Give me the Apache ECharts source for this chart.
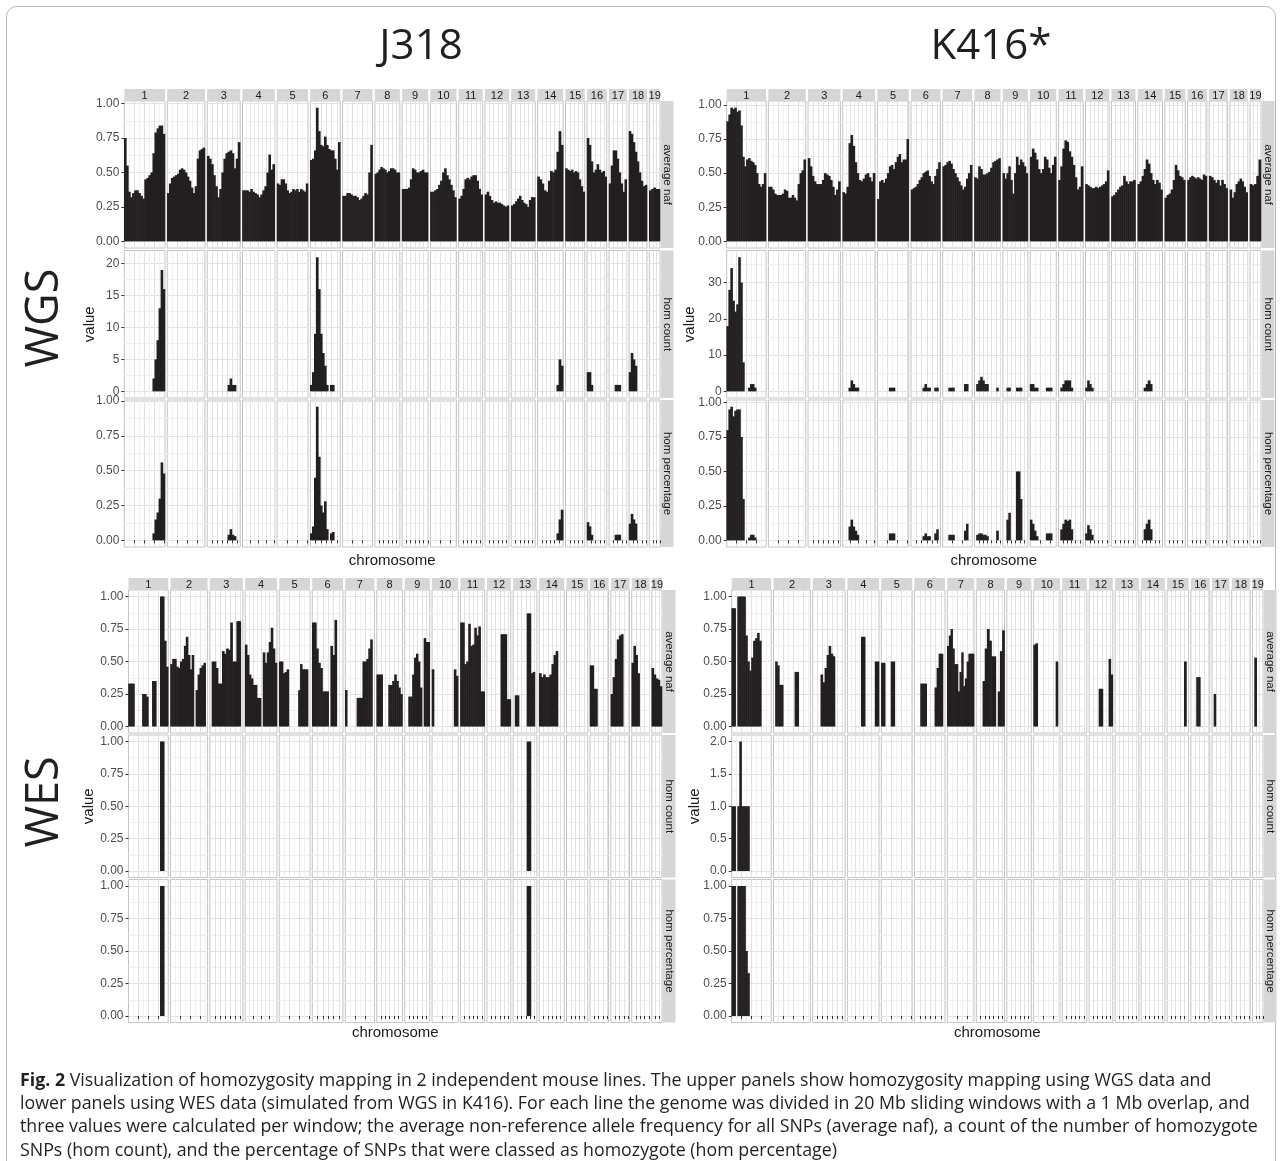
<!DOCTYPE html>
<html><head><meta charset="utf-8">
<script src="https://cdn.jsdelivr.net/npm/echarts@6/dist/echarts.min.js"></script>
<style>html,body{margin:0;padding:0;background:#fff}#c{width:1282px;height:1161px}</style>
</head><body><div id="c"></div>
<script>
// ================= DATA =================
const chromosomes = ['1','2','3','4','5','6','7','8','9','10','11','12','13','14','15','16','17','18','19'];
// number of 20 Mb sliding-window bins drawn per chromosome
const binsPerChromosome = [20,19,16,16,16,15,15,13,13,13,12,12,12,12,10,10,9,9,5];
const lineNames = ['J318', 'K416*'];
const assayNames = ['WGS', 'WES'];
const measureNames = ['average naf', 'hom count', 'hom percentage'];
const xAxisTitle = 'chromosome';
const yAxisTitle = 'value';
// y tick step and decimals per row (average naf, hom count, hom percentage)
const yTickStep = { j318Wgs:[0.25,5,0.25], k416Wgs:[0.25,10,0.25], j318Wes:[0.25,0.25,0.25], k416Wes:[0.25,0.5,0.25] };
const yTickDecimals = { j318Wgs:[2,0,2], k416Wgs:[2,0,2], j318Wes:[2,2,2], k416Wes:[2,1,2] };

// --- J318 WGS ---
const j318WgsNaf = [
  [0.75,0.55,0.36,0.32,0.35,0.37,0.37,0.35,0.33,0.31,0.45,0.46,0.48,0.5,0.64,0.79,0.82,0.84,0.84,0.78],
  [0.35,0.42,0.46,0.47,0.48,0.49,0.52,0.53,0.52,0.5,0.47,0.44,0.39,0.35,0.4,0.6,0.66,0.67,0.68],
  [0.62,0.6,0.56,0.48,0.4,0.32,0.38,0.5,0.6,0.64,0.65,0.66,0.64,0.53,0.6,0.72],
  [0.37,0.37,0.37,0.36,0.38,0.36,0.35,0.34,0.32,0.34,0.37,0.4,0.5,0.63,0.52,0.56],
  [0.42,0.41,0.45,0.45,0.42,0.37,0.35,0.36,0.38,0.37,0.38,0.36,0.38,0.37,0.36,0.42],
  [0.59,0.6,0.66,0.97,0.8,0.7,0.69,0.76,0.7,0.67,0.66,0.66,0.6,0.52,0.72],
  [0.33,0.33,0.35,0.35,0.34,0.33,0.33,0.32,0.3,0.31,0.33,0.35,0.34,0.5,0.7],
  [0.49,0.5,0.52,0.54,0.53,0.52,0.5,0.51,0.53,0.53,0.52,0.5,0.5],
  [0.38,0.38,0.38,0.39,0.45,0.53,0.52,0.5,0.5,0.51,0.52,0.5,0.5],
  [0.36,0.36,0.37,0.38,0.41,0.44,0.5,0.53,0.48,0.45,0.41,0.37,0.32],
  [0.31,0.33,0.38,0.45,0.46,0.45,0.47,0.48,0.48,0.44,0.38,0.34],
  [0.34,0.36,0.33,0.3,0.28,0.29,0.28,0.28,0.27,0.26,0.25,0.26],
  [0.26,0.27,0.29,0.31,0.33,0.3,0.28,0.27,0.25,0.3,0.32,0.32],
  [0.47,0.45,0.42,0.37,0.36,0.44,0.51,0.5,0.52,0.65,0.8,0.7],
  [0.53,0.52,0.51,0.52,0.5,0.51,0.5,0.45,0.4,0.36],
  [0.75,0.7,0.58,0.5,0.52,0.56,0.52,0.5,0.51,0.47],
  [0.42,0.55,0.66,0.66,0.6,0.5,0.42,0.36,0.45],
  [0.8,0.78,0.72,0.65,0.58,0.5,0.44,0.4,0.41],
  [0.37,0.38,0.39,0.38,0.38]
];
// runs: [chromosome, first bin, values...]
const j318WgsHomCount = [
  [1,14,[2,5,8,13,19,16]], [3,10,[1,2,1,1]], [6,0,[1,3,9,21,16,9,6,4,1,0,1,1]],
  [14,9,[1,5,4]], [16,0,[3,3,1]], [17,3,[1,1,1]], [18,0,[3,6,5,4]]
];
const j318WgsHomPct = [
  [1,14,[0.05,0.15,0.2,0.3,0.56,0.48]], [3,10,[0.04,0.08,0.04,0.03]],
  [6,0,[0.05,0.1,0.45,0.96,0.6,0.25,0.2,0.28,0.08,0,0.05,0.06]],
  [14,9,[0.05,0.15,0.22]], [16,0,[0.13,0.1,0.04]], [17,3,[0.04,0.04,0.04]], [18,0,[0.12,0.19,0.15,0.12]]
];

// --- K416 WGS ---
const k416WgsNaf = [
  [0.88,0.93,0.98,0.97,0.98,0.95,0.96,0.85,0.62,0.55,0.6,0.61,0.59,0.58,0.56,0.5,0.42,0.4,0.42,0.5],
  [0.4,0.4,0.38,0.35,0.34,0.34,0.34,0.35,0.38,0.37,0.32,0.32,0.34,0.32,0.3,0.42,0.5,0.52,0.6],
  [0.61,0.55,0.48,0.44,0.42,0.42,0.42,0.45,0.5,0.49,0.48,0.45,0.4,0.34,0.38,0.44],
  [0.36,0.35,0.4,0.72,0.78,0.7,0.58,0.5,0.45,0.44,0.46,0.49,0.5,0.47,0.44,0.5],
  [0.31,0.44,0.45,0.43,0.46,0.5,0.55,0.56,0.53,0.58,0.62,0.64,0.58,0.6,0.6,0.75],
  [0.38,0.39,0.4,0.42,0.45,0.47,0.5,0.51,0.52,0.48,0.44,0.42,0.48,0.53,0.58],
  [0.55,0.56,0.58,0.59,0.57,0.53,0.5,0.47,0.44,0.41,0.38,0.4,0.46,0.5,0.56],
  [0.47,0.46,0.55,0.53,0.49,0.49,0.5,0.51,0.54,0.58,0.59,0.6,0.61],
  [0.5,0.46,0.5,0.55,0.45,0.35,0.5,0.62,0.56,0.6,0.58,0.55,0.5],
  [0.62,0.68,0.65,0.6,0.53,0.5,0.53,0.62,0.6,0.54,0.5,0.56,0.62],
  [0.45,0.55,0.68,0.74,0.73,0.66,0.62,0.56,0.47,0.38,0.4,0.55],
  [0.42,0.41,0.4,0.39,0.39,0.4,0.39,0.4,0.41,0.42,0.44,0.52],
  [0.33,0.34,0.36,0.38,0.4,0.41,0.48,0.44,0.42,0.44,0.44,0.45],
  [0.42,0.44,0.48,0.53,0.6,0.57,0.5,0.45,0.42,0.45,0.43,0.38],
  [0.32,0.34,0.35,0.38,0.45,0.56,0.52,0.48,0.47,0.45],
  [0.45,0.47,0.48,0.47,0.46,0.47,0.46,0.45,0.49,0.48],
  [0.48,0.47,0.45,0.43,0.45,0.41,0.45,0.42,0.39],
  [0.38,0.32,0.36,0.42,0.44,0.46,0.44,0.4,0.36],
  [0.42,0.41,0.42,0.48,0.6]
];
const k416WgsHomCount = [
  [1,0,[18,28,34,25,22,24,37,30,8,0,0,1,2,2,1]], [4,3,[1,3,2,1,1]], [5,6,[1,1,1]],
  [6,6,[1,2,1,1,0,0,1,1]], [7,3,[1,1,1,0,0,0,0,0,2,2]], [8,1,[2,3,4,3,2,2,0,0,0,0,1]],
  [9,2,[1,1,0,0,0,1,1,1]], [10,0,[2,2,1,1,0,0,0,0,1,1,1]], [11,1,[1,2,3,3,3,1]],
  [12,0,[1,3,2,1]], [14,3,[1,2,3,2]]
];
const k416WgsHomPct = [
  [1,0,[0.8,0.95,0.97,0.9,0.94,0.95,0.95,0.75,0.3,0,0,0.02,0.04,0.04,0.02]],
  [4,3,[0.1,0.15,0.1,0.07,0.04]], [5,6,[0.05,0.05,0.05]],
  [6,6,[0.03,0.05,0.03,0.03,0,0,0.05,0.08]], [7,3,[0.04,0.04,0.04,0,0,0,0,0,0.07,0.12]],
  [8,1,[0.04,0.05,0.05,0.04,0.04,0.03,0,0,0,0,0.07]], [9,2,[0.15,0.2,0,0,0,0.5,0.5,0.3]],
  [10,0,[0.15,0.12,0.07,0.03,0,0,0,0,0.05,0.05,0.05]], [11,1,[0.08,0.12,0.15,0.14,0.15,0.08]],
  [12,0,[0.05,0.11,0.08,0.04]], [14,3,[0.08,0.12,0.15,0.08]]
];

// --- J318 WES ---
const j318WesNaf = [
  [0.33,0.33,0.33,0,0,0,0,0.25,0.25,0.23,0,0,0.35,0.35,0,0,1.0,1.0,0.66,0.46],
  [0.48,0.52,0.52,0.46,0.45,0.5,0.52,0.62,0.69,0.55,0.44,0.55,0,0.28,0.4,0.45,0.47,0.49,0],
  [0,0.5,0.5,0.45,0.33,0.33,0.58,0.56,0.6,0.59,0.8,0.5,0.5,0.81,0.81,0],
  [0.63,0.55,0.4,0.37,0.32,0.32,0.22,0.22,0,0.57,0.49,0.57,0.65,0.76,0.6,0.49],
  [0.5,0.5,0.41,0.42,0.44,0,0,0,0,0,0.28,0.48,0.44,0.44,0.44,0],
  [0.8,0.8,0.6,0.49,0.45,0.27,0.27,0.27,0,0.62,0.55,0.82,0,0,0],
  [0.28,0,0,0,0,0,0.22,0.22,0.22,0.5,0.5,0.52,0.6,0.67,0],
  [0.4,0.4,0.4,0,0,0,0.32,0.32,0.35,0.4,0.35,0.3,0.25],
  [0,0,0.23,0.23,0.4,0.53,0.56,0.5,0.3,0,0.68,0.65,0.65],
  [0.44,0,0,0,0,0,0,0,0,0,0,0.44,0.39],
  [0.8,0.8,0.48,0.5,0.79,0.62,0.63,0.76,0.7,0.77,0.27,0.27],
  [0,0,0,0,0,0,0,0.71,0.71,0.71,0.21,0.21],
  [0,0.24,0.24,0,0,0,0,0.87,0.87,0.41,0.42,0],
  [0.41,0.38,0.4,0.38,0.38,0.4,0.48,0.55,0.58,0,0,0],
  [],
  [0.47,0.47,0.29,0.29,0,0,0,0,0,0],
  [0.25,0.38,0.52,0.67,0.7,0.71,0,0,0],
  [0.49,0.62,0.55,0.41,0,0,0,0,0],
  [0.45,0.4,0.37,0.36,0.31]
];
const j318WesHomCount = [[1,16,[1,1]], [13,7,[1,1]]];
const j318WesHomPct = [[1,16,[1,1]], [13,7,[1,1]]];

// --- K416 WES ---
const k416WesNaf = [
  [0.91,0.91,0,1.0,1.0,1.0,1.0,0.7,0.5,0.43,0.53,0.66,0.68,0.72,0.66,0,0,0,0,0],
  [0,0.5,0.47,0.32,0.32,0,0,0,0,0,0,0.42,0.42,0,0,0,0,0,0],
  [0,0,0,0,0.4,0.34,0.45,0.55,0.62,0.56,0.54,0,0,0,0,0],
  [0,0,0,0,0,0,0,0.69,0.69,0,0,0,0,0,0.5,0.5],
  [0.49,0.49,0,0,0,0.5,0.5,0,0,0,0,0,0,0,0,0],
  [0,0,0,0.33,0.33,0.33,0,0,0,0,0.3,0.45,0.56,0.56,0],
  [0.62,0.7,0.75,0.6,0.48,0.48,0.27,0.42,0.57,0.31,0.37,0.5,0.56,0.56,0.56],
  [0,0,0,0.35,0.6,0.75,0.66,0.54,0.54,0,0.27,0.58,0.74],
  [],
  [0.63,0.64,0,0,0,0,0,0,0,0,0,0.5,0],
  [],
  [0,0,0,0,0,0.29,0.29,0,0,0,0.52,0.4],
  [],
  [],
  [0,0,0,0,0,0,0,0,0.5,0],
  [0,0,0,0.38,0.38,0,0,0,0,0],
  [0,0.25,0,0,0,0,0,0,0],
  [],
  [0,0.53,0,0,0]
];
const k416WesHomCount = [[1,0,[1,1,0,1,2,1,1,1,1]]];
const k416WesHomPct = [[1,0,[1,1,0,1,1,1,1,0.5,0.33]]];

const captionLines = [
  '{b|Fig. 2} Visualization of homozygosity mapping in 2 independent mouse lines. The upper panels show homozygosity mapping using WGS data and',
  'lower panels using WES data (simulated from WGS in K416). For each line the genome was divided in 20 Mb sliding windows with a 1 Mb overlap, and',
  'three values were calculated per window; the average non-reference allele frequency for all SNPs (average naf), a count of the number of homozygote',
  'SNPs (hom count), and the percentage of SNPs that were classed as homozygote (hom percentage)'
];

// ================= LAYOUT / STYLE =================
const LAYOUT = {
  j318Wgs: { left:124.3, right:660, stripTop:89, stripH:12, rowStripX:661, rowStripW:12.5,
             rows:[[101,248],[250.5,398],[400,547]], nameGap:27, xTitleY:561,
             widths:[40.7,37.7,33,32.3,31,30,30,25,26,26,24,24,24,25.7,19.3,19.7,17.7,18,10.7] },
  k416Wgs: { left:726.7, right:1261, stripTop:89, stripH:12, rowStripX:1262, rowStripW:12.5,
             rows:[[101,248],[250.5,398],[400,547]], nameGap:29, xTitleY:561,
             widths:[39.3,37.3,32.3,32.3,31.3,29.3,29.4,26,25,26,24.6,23.6,24,24.7,20.4,19.3,18.4,17.7,11] },
  j318Wes: { left:128.5, right:662, stripTop:578, stripH:12, rowStripX:663, rowStripW:12.5,
             rows:[[590,733],[735,877.5],[879.5,1022.5]], nameGap:28, xTitleY:1033,
             widths:[40.5,37.8,33.6,32.4,31.3,31.3,29.7,26.2,25.5,26.6,24.7,24.3,24.3,25.5,21.6,18.9,18.9,18.1,10.4] },
  k416Wes: { left:731.7, right:1263, stripTop:578, stripH:12, rowStripX:1264, rowStripW:12.5,
             rows:[[590,733],[735,877.5],[879.5,1022.5]], nameGap:29, xTitleY:1033,
             widths:[40.5,37.8,33.2,32.4,31.6,31.3,27.4,28.9,25.1,27,25.1,24.3,24.3,24.3,22,19.3,17.8,18.9,10.8] }
};
const X_TICK_PX = [10,10,5,8,10,5.3,10,4.3,4.3,10,4.3,4.3,4.3,4.3,4.3,4.3,4.3,4.3,3.5];
const PANEL_GAP = 2.3;
const BAR_COLOR = '#231f20';
const AXIS_FONT = 'Liberation Sans';
const CAPTION_SIZE = 17.8;

function expandRuns(runs) {
  const out = binsPerChromosome.map(n => new Array(n).fill(0));
  runs.forEach(([chr, start, vals]) => vals.forEach((v, k) => {
    if (start + k < out[chr - 1].length) out[chr - 1][start + k] = v;
  }));
  return out;
}
function padDense(arr) {
  return binsPerChromosome.map((n, c) => {
    const a = (arr[c] || []).slice(0, n);
    while (a.length < n) a.push(0);
    return a;
  });
}

const BLOCKS = [
  { id:'j318Wgs', rows:[padDense(j318WgsNaf), expandRuns(j318WgsHomCount), expandRuns(j318WgsHomPct)] },
  { id:'k416Wgs', rows:[padDense(k416WgsNaf), expandRuns(k416WgsHomCount), expandRuns(k416WgsHomPct)] },
  { id:'j318Wes', rows:[padDense(j318WesNaf), expandRuns(j318WesHomCount), expandRuns(j318WesHomPct)] },
  { id:'k416Wes', rows:[padDense(k416WesNaf), expandRuns(k416WesHomCount), expandRuns(k416WesHomPct)] }
];

const grids = [], xAxes = [], yAxes = [], series = [], graphics = [];

// outer frame
graphics.push({ type:'rect', z:0, shape:{ x:6.5, y:6.5, width:1269, height:1200, r:10 },
  style:{ fill:'none', stroke:'#b9b9b9', lineWidth:1 } });

BLOCKS.forEach(b => {
  const L = LAYOUT[b.id];
  const sumW = L.widths.reduce((a, v) => a + v, 0);
  const k = (L.right - L.left - PANEL_GAP * 18) / sumW;
  const xs = [], ws = [];
  let x = L.left;
  L.widths.forEach(w => { xs.push(x); ws.push(w * k); x += w * k + PANEL_GAP; });

  // column strips
  xs.forEach((x0, c) => {
    graphics.push({ type:'rect', shape:{ x:x0, y:L.stripTop, width:ws[c], height:L.stripH }, style:{ fill:'#d6d6d6' } });
    graphics.push({ type:'text', x:x0 + ws[c] / 2, y:L.stripTop + L.stripH / 2 + 0.5,
      style:{ text:chromosomes[c], fill:'#1a1a1a', fontSize:11, fontFamily:AXIS_FONT, align:'center', verticalAlign:'middle' } });
  });
  // x title
  graphics.push({ type:'text', x:(L.left + L.right) / 2, y:L.xTitleY,
    style:{ text:xAxisTitle, fill:'#1a1a1a', fontSize:15, fontFamily:AXIS_FONT, align:'center', verticalAlign:'middle' } });

  b.rows.forEach((rowData, r) => {
    const [top, bottom] = L.rows[r];
    let maxV = 0;
    rowData.forEach(a => a.forEach(v => { if (v > maxV) maxV = v; }));
    const lo = -0.05 * maxV, hi = 1.05 * maxV;
    const step = yTickStep[b.id][r], dec = yTickDecimals[b.id][r];
    const yt = [];
    for (let v = 0; v <= hi + 1e-9; v += step) yt.push(+v.toFixed(6));

    // row strip
    graphics.push({ type:'rect', shape:{ x:L.rowStripX, y:top, width:L.rowStripW, height:bottom - top }, style:{ fill:'#d6d6d6' } });
    graphics.push({ type:'text', x:L.rowStripX + L.rowStripW / 2, y:(top + bottom) / 2, rotation:-Math.PI / 2,
      style:{ text:measureNames[r], fill:'#1a1a1a', fontSize:11.5, fontFamily:AXIS_FONT, align:'center', verticalAlign:'middle' } });

    rowData.forEach((vals, c) => {
      const gi = grids.length;
      const n = binsPerChromosome[c];
      const binPx = ws[c] / n;
      const tickBins = X_TICK_PX[c] / binPx;
      const xt = [];
      for (let t = tickBins; t < n - 1e-6; t += tickBins) xt.push(t);
      grids.push({ left:xs[c], top:top, width:ws[c], height:bottom - top, show:true,
        borderColor:'#c3c3c3', borderWidth:1, backgroundColor:'#ffffff' });
      xAxes.push({ gridIndex:gi, type:'value', min:0, max:n, interval:tickBins,
        axisLine:{ show:false }, axisLabel:{ show:false },
        axisTick:{ show:r === 2, customValues:xt, length:3, lineStyle:{ color:'#333', width:1 } },
        splitLine:{ show:true, lineStyle:{ color:'#e2e2e2', width:1 } },
        minorTick:{ show:false, splitNumber:2 },
        minorSplitLine:{ show:X_TICK_PX[c] >= 7, lineStyle:{ color:'#f0f0f0', width:1 } } });
      yAxes.push({ gridIndex:gi, type:'value', min:lo, max:hi, minInterval:step, maxInterval:step,
        axisLine:{ show:false },
        axisTick:{ show:c === 0, customValues:yt, length:3, lineStyle:{ color:'#333', width:1 } },
        axisLabel:{ show:c === 0, customValues:yt,
          formatter:v => Number(v).toFixed(dec), color:'#4d4d4d', fontSize:12, fontFamily:AXIS_FONT, margin:5 },
        splitLine:{ show:true, lineStyle:{ color:'#e2e2e2', width:1 } },
        minorTick:{ show:false, splitNumber:2 },
        minorSplitLine:{ show:true, lineStyle:{ color:'#f0f0f0', width:1 } },
        name:(c === 0 && r === 1) ? yAxisTitle : '', nameLocation:'middle', nameGap:L.nameGap,
        nameTextStyle:{ color:'#1a1a1a', fontSize:15, fontFamily:AXIS_FONT } });
      series.push({ type:'bar', xAxisIndex:gi, yAxisIndex:gi, silent:true, animation:false,
        barWidth:binPx + 0.6, itemStyle:{ color:BAR_COLOR },
        data:vals.map((v, i) => [i + 0.5, v]).filter(d => d[1] > 0) });
    });
  });
});

// line titles and assay labels
graphics.push({ type:'text', x:421, y:47, style:{ text:lineNames[0], fill:'#231f20', fontSize:42, fontFamily:'Open Sans', align:'center', verticalAlign:'middle' } });
graphics.push({ type:'text', x:991, y:47, style:{ text:lineNames[1], fill:'#231f20', fontSize:42, fontFamily:'Open Sans', align:'center', verticalAlign:'middle' } });
graphics.push({ type:'text', x:45, y:318, rotation:Math.PI / 2, style:{ text:assayNames[0], fill:'#231f20', fontSize:45, fontFamily:'Open Sans', align:'center', verticalAlign:'middle' } });
graphics.push({ type:'text', x:45, y:802, rotation:Math.PI / 2, style:{ text:assayNames[1], fill:'#231f20', fontSize:45, fontFamily:'Open Sans', align:'center', verticalAlign:'middle' } });

// caption
captionLines.forEach((t, i) => {
  graphics.push({ type:'text', x:20, y:1081 + i * 23.2, style:{ text:t, fill:'#231f20', fontSize:CAPTION_SIZE, fontFamily:'Open Sans',
    align:'left', verticalAlign:'middle', rich:{ b:{ fontWeight:'bold', fontSize:CAPTION_SIZE, fontFamily:'Open Sans', fill:'#231f20' } } } });
});

const chart = echarts.init(document.getElementById('c'), null, { renderer:'canvas' });
chart.setOption({
  animation:false,
  backgroundColor:'#ffffff',
  grid:grids, xAxis:xAxes, yAxis:yAxes, series:series, graphic:graphics
});
</script></body></html>
